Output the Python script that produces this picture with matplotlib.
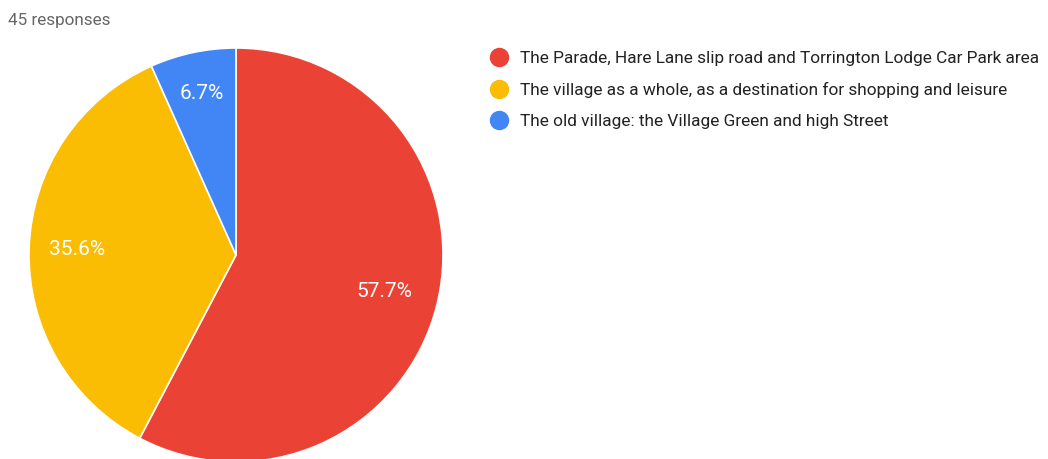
import numpy as np
import matplotlib.pyplot as plt
from matplotlib.lines import Line2D

plt.rcParams['font.family'] = ['Roboto', 'DejaVu Sans']

# responses summary
total_responses = 45
labels = [
    'The Parade, Hare Lane slip road and Torrington Lodge Car Park area',
    'The village as a whole, as a destination for shopping and leisure',
    'The old village: the Village Green and high Street',
]
shares = [57.7, 35.6, 6.7]
colors = ['#EA4335', '#FBBC04', '#4285F4']
label_dist = [0.74, 0.77, 0.80]

W, H = 1048, 459
fig = plt.figure(figsize=(W / 100, H / 100), dpi=100)

# pie axes placed in pixel terms: centre (236, 204 from bottom), radius 207
cx, cy, r = 236, 204, 207
ax = fig.add_axes([(cx - r) / W, (cy - r) / H, 2 * r / W, 2 * r / H])
wedges, texts, autotexts = ax.pie(
    shares, colors=colors, startangle=90, counterclock=False,
    autopct=lambda p: f'{p:.1f}%', radius=1.0,
    wedgeprops=dict(edgecolor='white', linewidth=1.2),
    textprops=dict(color='white', fontsize=15))
# push each percentage label out along its wedge bisector
for w, t, d in zip(wedges, autotexts, label_dist):
    mid = np.deg2rad((w.theta1 + w.theta2) / 2)
    t.set_position((d * np.cos(mid), d * np.sin(mid)))
ax.set_xlim(-1, 1)
ax.set_ylim(-1, 1)
ax.set_aspect('equal')
ax.axis('off')

fig.text(8 / W, 1 - 20 / H, f'{total_responses} responses', color='#666666',
         fontsize=12.3, va='center', ha='left')

handles = [Line2D([], [], marker='o', linestyle='none', markersize=13,
                  markerfacecolor=c, markeredgecolor=c) for c in colors]
fig.legend(handles, labels, loc='upper left', bbox_to_anchor=(490 / W, 1 - 51 / H),
           frameon=False, fontsize=12.45, labelspacing=0.93, handlelength=1.0,
           handletextpad=0.72, borderpad=0, borderaxespad=0, labelcolor='#222222')

fig.savefig('out.png', dpi=100)
